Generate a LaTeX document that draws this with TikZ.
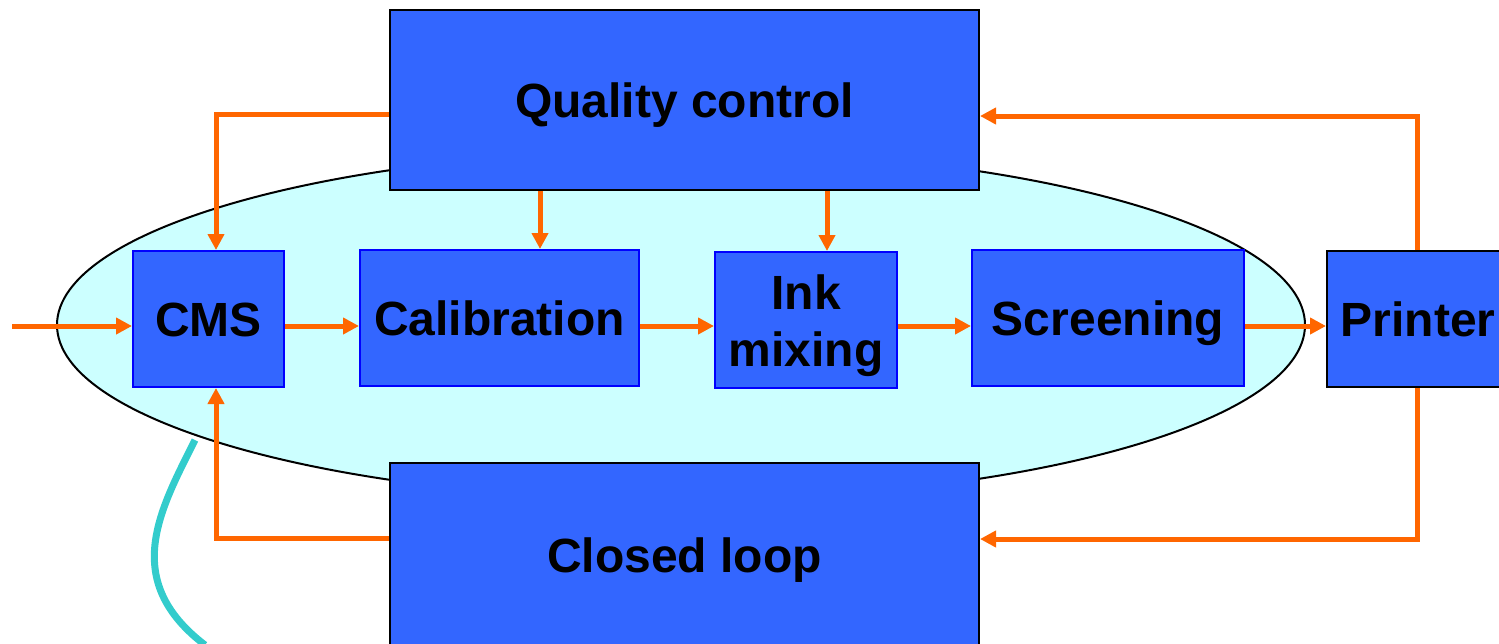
\documentclass[tikz,border=0pt]{standalone}
\usepackage{fontspec}
\setmainfont{Liberation Sans}
\usetikzlibrary{arrows.meta}
\definecolor{boxblue}{HTML}{3366FF}
\definecolor{edgeblue}{HTML}{0000FF}
\definecolor{flow}{HTML}{FF6600}
\definecolor{pale}{HTML}{CCFFFF}
\definecolor{teal}{HTML}{33CCCC}
\tikzset{
  stage/.style={draw=edgeblue, line width=2pt, fill=boxblue, minimum height=136pt,
    inner sep=0pt, align=center, text height=35pt, text depth=0pt,
    font=\fontsize{48}{57}\selectfont\bfseries},
  block/.style={stage, draw=black},
  arr/.style={draw=flow, line width=5pt,
    -{Triangle[length=16pt,width=16pt]}},
}
\begin{document}
\begin{tikzpicture}[x=1pt,y=-1pt]
\useasboundingbox (0,0) rectangle (1499,643);
\clip (0,0) rectangle (1499,643);
% the processing chain inside the shaded region
\draw[fill=pale, line width=2pt] (681,325) ellipse [x radius=624, y radius=175];
\node[stage, minimum width=151pt] (cms) at (208.5,319) {CMS};
\node[stage, minimum width=279pt] (cal) at (499.5,318) {Calibration};
\node[stage, minimum width=182pt, text height=92pt, text depth=-4pt] (ink) at (806,320) {Ink\\mixing};
\node[stage, minimum width=272pt] (scr) at (1108,318) {Screening};
\node[block, minimum width=182pt] (prn) at (1418,319) {Printer};
\node[block, minimum width=589pt, minimum height=180pt] (qc) at (684.5,100) {Quality control};
\node[block, minimum width=589pt, minimum height=184pt] (cl) at (684.5,555) {Closed loop};
% forward flow
\coordinate (src) at (12,326);
\draw[arr] (src) -- (cms.west |- src);
\draw[arr] (cms.east |- src) -- (cal.west |- src);
\draw[arr] (cal.east |- src) -- (ink.west |- src);
\draw[arr] (ink.east |- src) -- (scr.west |- src);
\draw[arr] (scr.east |- src) -- (prn.west |- src);
% feedback from quality control
\coordinate (qcl) at (216,114);
\draw[arr] (qc.west |- qcl) -| (cms.north -| qcl);
\coordinate (qc1) at (540,0);
\coordinate (qc2) at (827,0);
\draw[arr] (qc.south -| qc1) -- (cal.north -| qc1);
\draw[arr] (qc.south -| qc2) -- (ink.north -| qc2);
% printer feedback
\coordinate (pt) at (1417,116);
\coordinate (pb) at (1417,539);
\draw[arr] (prn.north -| pt) |- (qc.east |- pt);
\draw[arr] (prn.south -| pb) |- (cl.east |- pb);
% closed loop back to CMS
\coordinate (cll) at (216,538);
\draw[arr] (cl.west |- cll) -| (cms.south -| cll);
% pointer curve
\draw[teal, line width=7pt] (195,440) .. controls (160,510) and (120,580) .. (205,645);
\end{tikzpicture}
\end{document}
